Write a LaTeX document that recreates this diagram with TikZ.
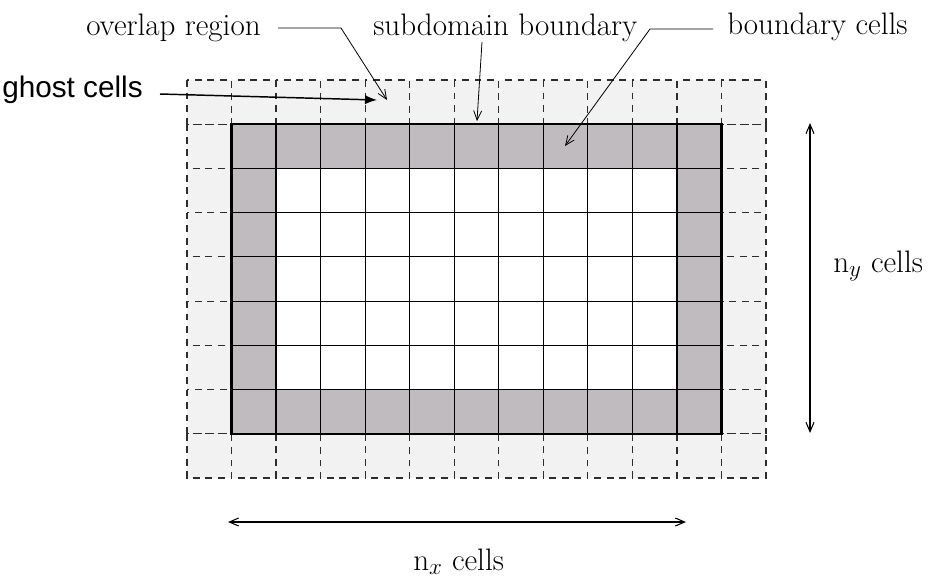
\documentclass[tikz,border=0pt]{standalone}
\usepackage{fontspec}
\newfontfamily\ghostfont{Liberation Sans}
\usetikzlibrary{arrows.meta}
\definecolor{ghostfill}{RGB}{242,242,242}
\definecolor{bndfill}{RGB}{191,187,190}
\definecolor{dashcol}{RGB}{45,45,45}
\tikzset{
  lbl/.style={inner sep=0pt, anchor=base west, font=\fontsize{23.3}{28}\selectfont},
  ghostlbl/.style={inner sep=0pt, anchor=base west, font=\ghostfont\fontsize{22.3}{27}\selectfont},
  gridline/.style={line width=0.9pt, black},
  border/.style={line width=1.9pt, black},
  ghostbox/.style={line width=0.9pt, dashcol, dash pattern=on 5.1pt off 4.3pt},
  ghostedge/.style={line width=0.9pt, dashcol, dash pattern=on 0pt off 4.75pt on 5.1pt off 4.3pt on 5.1pt off 4.3pt on 5.1pt off 4.75pt},
  leader/.style={line width=0.6pt, black, -{Straight Barb[length=7pt,width=6pt]}},
  dimarrow/.style={line width=0.8pt, black, {Straight Barb[length=7pt,width=6pt]}-{Straight Barb[length=7pt,width=6pt]}},
  ghostarrow/.style={line width=1.1pt, black, -{Latex[length=9pt,width=7pt]}}
}
\begin{document}
\begin{tikzpicture}[x=0.75pt,y=-0.75pt]
\useasboundingbox (0,0) rectangle (933,579);
\fill[white] (0,0) rectangle (933,579);
\def\gx{187}\def\gy{80}\def\cw{44.54}\def\ch{44.22}
% fills
\fill[ghostfill] (187,80) rectangle (766,478);
\fill[bndfill] (231.54,124.22) rectangle (721.46,433.78);
\fill[white] (276.08,168.44) rectangle (676.92,389.56);
% dashed ghost boxes (top and bottom rows, even columns)
\foreach \i in {0,2,...,12}{
  \pgfmathsetmacro{\xa}{\gx+\i*\cw}\pgfmathsetmacro{\xb}{\gx+(\i+1)*\cw}
  \draw[ghostbox] (\xa,80) rectangle (\xb,124.22);
  \draw[ghostbox] (\xa,433.78) rectangle (\xb,478);
}
\foreach \i in {1,3,...,11}{
  \pgfmathsetmacro{\xa}{\gx+\i*\cw}\pgfmathsetmacro{\xb}{\gx+(\i+1)*\cw}
  \draw[ghostedge] (\xa,80) -- (\xb,80);
  \draw[ghostedge] (\xa,478) -- (\xb,478);
}
% left and right columns
\foreach \j in {1,3,5,7}{
  \pgfmathsetmacro{\ya}{\gy+\j*\ch}\pgfmathsetmacro{\yb}{\gy+(\j+1)*\ch}
  \draw[ghostbox] (187,\ya) rectangle (231.54,\yb);
  \draw[ghostbox] (721.46,\ya) rectangle (766,\yb);
}
\foreach \j in {2,4,6}{
  \pgfmathsetmacro{\ya}{\gy+\j*\ch}\pgfmathsetmacro{\yb}{\gy+(\j+1)*\ch}
  \draw[ghostedge] (187,\ya) -- (187,\yb);
  \draw[ghostedge] (766,\ya) -- (766,\yb);
}
% inner grid
\foreach \i in {2,...,11}{
  \pgfmathsetmacro{\xa}{\gx+\i*\cw}
  \draw[gridline] (\xa,124.22) -- (\xa,433.78);
}
\foreach \j in {2,...,7}{
  \pgfmathsetmacro{\ya}{\gy+\j*\ch}
  \draw[gridline] (231.54,\ya) -- (721.46,\ya);
}
\draw[border] (231.54,124.22) rectangle (721.46,433.78);
% labels
\node[lbl] (ovl) at (86,35) {overlap region};
\node[lbl] (sub) at (373,35) {subdomain boundary};
\node[lbl] (bc) at (727,34) {boundary cells};
\node[ghostlbl] (ghost) at (2,97) {ghost cells};
\node[lbl] (ny) at (833,272) {n$_y$ cells};
\node[lbl] (nx) at (413,570) {n$_x$ cells};
% connector coordinates
\coordinate (ovlA) at (278,28);
\coordinate (ovlB) at (341,28);
\coordinate (ovlTip) at (387,100);
\coordinate (subA) at (482,42);
\coordinate (subTip) at (477,121);
\coordinate (bcA) at (713,29);
\coordinate (bcB) at (650,29);
\coordinate (bcTip) at (565,146);
\coordinate (ghA) at (160,94);
\coordinate (ghTip) at (377,100);
\coordinate (nyT) at (810,123);
\coordinate (nyB) at (810,433);
\coordinate (nxL) at (228,522);
\coordinate (nxR) at (686,522);
% connectors
\draw[leader] (ovlA) -- (ovlB) -- (ovlTip);
\draw[leader] (subA) -- (subTip);
\draw[leader] (bcA) -- (bcB) -- (bcTip);
\draw[ghostarrow] (ghA) -- (ghTip);
\draw[dimarrow] (nyT) -- (nyB);
\draw[dimarrow] (nxL) -- (nxR);
\end{tikzpicture}
\end{document}
